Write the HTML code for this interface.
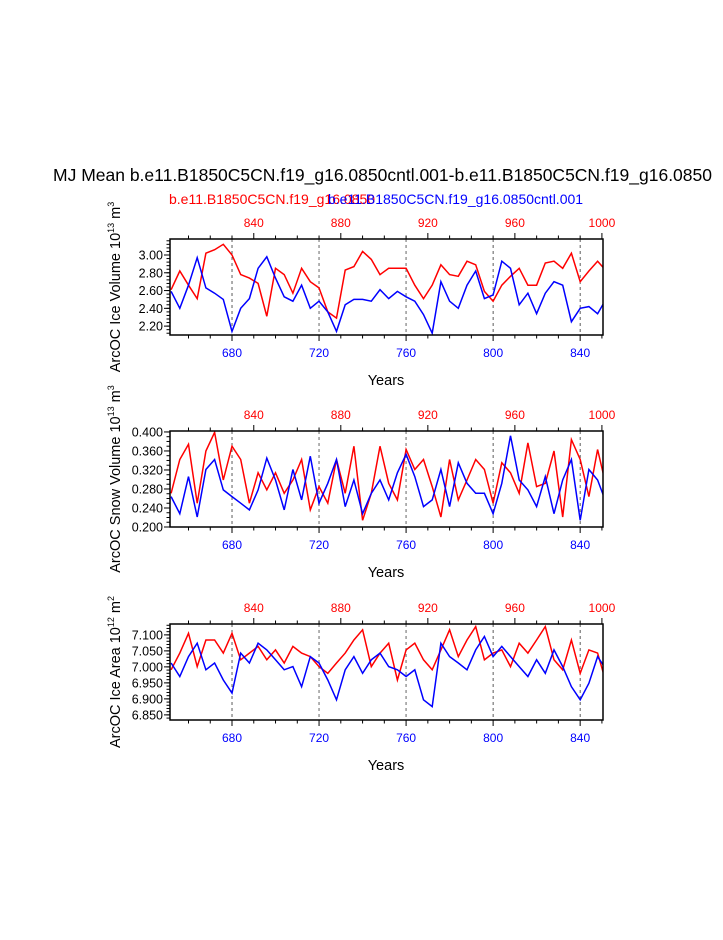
<!DOCTYPE html>
<html><head><meta charset="utf-8"><style>
body{margin:0;background:#fff;width:723px;height:935px;overflow:hidden}
svg{font-family:"Liberation Sans",sans-serif}
</style></head><body>
<svg id="c" width="723" height="935">
<text x="53" y="181" font-size="17.5">MJ Mean b.e11.B1850C5CN.f19_g16.0850cntl.001-b.e11.B1850C5CN.f19_g16.0850</text>
<text x="169" y="204" font-size="14" fill="red">b.e11.B1850C5CN.f19_g16.0850</text>
<text x="328" y="204" font-size="14" fill="blue">b.e11.B1850C5CN.f19_g16.0850cntl.001</text>
</svg>
<script>
const blueYears=[],redYears=[];
for(let i=0;i<51;i++){blueYears.push(652+4*i);redYears.push(802+4*i);}
const iceVolRed=[2.61,2.82,2.66,2.51,3.02,3.06,3.12,3.00,2.78,2.74,2.68,2.31,2.85,2.78,2.57,2.85,2.70,2.63,2.36,2.29,2.83,2.87,3.04,2.95,2.78,2.85,2.85,2.85,2.66,2.51,2.66,2.89,2.78,2.76,2.93,2.89,2.59,2.48,2.66,2.76,2.85,2.66,2.66,2.91,2.93,2.85,3.02,2.70,2.82,2.93,2.82];
const iceVolBlue=[2.59,2.40,2.66,2.97,2.63,2.57,2.50,2.14,2.40,2.51,2.85,2.98,2.74,2.53,2.48,2.66,2.40,2.48,2.36,2.14,2.44,2.50,2.50,2.48,2.61,2.51,2.59,2.53,2.48,2.33,2.12,2.70,2.48,2.40,2.66,2.82,2.51,2.55,2.93,2.85,2.44,2.57,2.34,2.57,2.70,2.66,2.25,2.40,2.42,2.34,2.51];
const snowRed=[0.271,0.342,0.374,0.250,0.360,0.399,0.299,0.370,0.342,0.250,0.314,0.278,0.314,0.271,0.299,0.342,0.236,0.285,0.250,0.342,0.271,0.370,0.214,0.271,0.370,0.292,0.257,0.363,0.321,0.342,0.285,0.221,0.342,0.257,0.299,0.342,0.321,0.250,0.335,0.314,0.271,0.377,0.285,0.292,0.360,0.221,0.384,0.342,0.264,0.363,0.285];
const snowBlue=[0.264,0.228,0.306,0.221,0.321,0.342,0.278,0.264,0.250,0.236,0.278,0.345,0.299,0.236,0.321,0.257,0.349,0.250,0.292,0.342,0.243,0.299,0.228,0.271,0.299,0.257,0.314,0.353,0.306,0.243,0.257,0.321,0.243,0.335,0.292,0.271,0.271,0.228,0.292,0.392,0.299,0.278,0.243,0.306,0.228,0.299,0.342,0.214,0.321,0.299,0.250];
const areaRed=[6.991,7.043,7.105,7.001,7.084,7.084,7.043,7.105,7.022,7.043,7.064,7.022,7.053,7.012,7.064,7.043,7.032,7.001,6.980,7.012,7.043,7.084,7.116,7.001,7.043,7.074,6.959,7.053,7.074,7.022,6.991,7.053,7.116,7.032,7.084,7.126,7.022,7.043,7.053,7.001,7.074,7.043,7.084,7.126,7.022,6.991,7.084,6.980,7.053,7.043,6.949];
const areaBlue=[7.012,6.970,7.032,7.074,6.991,7.012,6.959,6.918,7.043,7.012,7.074,7.053,7.022,6.991,7.001,6.938,7.032,7.012,6.959,6.897,6.991,7.032,6.980,7.022,7.043,7.001,6.991,6.970,6.991,6.897,6.876,7.074,7.032,7.012,6.991,7.053,7.095,7.032,7.064,7.032,7.001,6.970,7.022,6.980,7.053,7.001,6.938,6.897,6.949,7.032,6.991];
const bottomTicks=[680,720,760,800,840];
const topTicks=[840,880,920,960,1000];
const NS="http://www.w3.org/2000/svg";
const svg=document.getElementById('c');
const L=170,R=603,B0=651.5,B1=850.5,R0=801.5,R1=1000.5;
function xb(y){return L+(y-B0)/(B1-B0)*(R-L);}
function xr(y){return L+(y-R0)/(R1-R0)*(R-L);}
function mk(tag,at,parent){const e=document.createElementNS(NS,tag);for(const k in at)e.setAttribute(k,at[k]);(parent||svg).appendChild(e);return e;}
const panels=[
 {top:239,bot:335,lo:2.10,hi:3.18,labels:[2.2,2.4,2.6,2.8,3.0],fmt:2,minor:0.04,red:iceVolRed,blue:iceVolBlue,title:"ArcOC Ice Volume 10",sup:"13",unit:"m",usup:"3",name:"ice-volume"},
 {top:431,bot:527,lo:0.2,hi:0.402,labels:[0.2,0.24,0.28,0.32,0.36,0.4],fmt:3,minor:0.01,red:snowRed,blue:snowBlue,title:"ArcOC Snow Volume 10",sup:"13",unit:"m",usup:"3",name:"snow-volume"},
 {top:624,bot:720,lo:6.834,hi:7.134,labels:[6.85,6.9,6.95,7.0,7.05,7.1],fmt:3,minor:0.01,red:areaRed,blue:areaBlue,title:"ArcOC Ice Area 10",sup:"12",unit:"m",usup:"2",name:"ice-area"}
];
panels.forEach((p,pi)=>{
 const g=mk('g',{});
 
 
 const yv=v=>p.bot-(v-p.lo)/(p.hi-p.lo)*(p.bot-p.top);
 const cid='clip'+pi;
 const cp=mk('clipPath',{id:cid},g);mk('rect',{x:L,y:p.top,width:R-L,height:p.bot-p.top},cp);
 bottomTicks.forEach((t,i)=>{const l=mk('line',{x1:xb(t),x2:xb(t),y1:p.top,y2:p.bot,stroke:(i==1||i==2)?'#999':'#333','stroke-width':(i==1||i==2)?1.5:0.8,'stroke-dasharray':'3,3'},g);
  
  });
 [[p.red,redYears,xr,'red'],[p.blue,blueYears,xb,'blue']].forEach(([vals,yrs,xf,col])=>{
  const d=vals.map((v,i)=>(i?'L':'M')+xf(yrs[i]).toFixed(1)+','+yv(v).toFixed(1)).join('');
  const pa=mk('path',{d:d,fill:'none',stroke:col,'stroke-width':1.5,'clip-path':'url(#'+cid+')'},g);
  
  
 });
 const fr=mk('rect',{x:L,y:p.top,width:R-L,height:p.bot-p.top,fill:'none',stroke:'#000','stroke-width':1.5},g);
 
 
 for(let y=660;y<=850;y+=10){const mj=y%40==0;mk('line',{x1:xb(y),x2:xb(y),y1:p.bot,y2:p.bot+(mj?6:3.5),stroke:'#000'},g);}
 for(let y=810;y<=1000;y+=10){const mj=y%40==0;mk('line',{x1:xr(y),x2:xr(y),y1:p.top,y2:p.top-(mj?6:3.5),stroke:'#000'},g);}
 bottomTicks.forEach(t=>{const e=mk('text',{x:xb(t),y:p.bot+22,'font-size':12,fill:'blue','text-anchor':'middle'},g);e.textContent=t;
  
  });
 topTicks.forEach(t=>{const e=mk('text',{x:xr(t),y:p.top-12,'font-size':12,fill:'red','text-anchor':'middle'},g);e.textContent=t;
  
  });
 for(let k=Math.ceil(p.lo/p.minor);k*p.minor<=p.hi+1e-9;k++){const v=k*p.minor;mk('line',{x1:L,x2:L-3.5,y1:yv(v),y2:yv(v),stroke:'#000'},g);}
 p.labels.forEach(v=>{mk('line',{x1:L,x2:L-6,y1:yv(v),y2:yv(v),stroke:'#000'},g);
  const e=mk('text',{x:L-7,y:yv(v)+4.5,'font-size':12.5,'text-anchor':'end'},g);e.textContent=v.toFixed(p.fmt);
  
  });
 const xt=mk('text',{x:386,y:p.bot+50,'font-size':14.5,'text-anchor':'middle'},g);xt.textContent='Years';
 
 
 const cy=(p.top+p.bot)/2;
 const yt=mk('text',{x:0,y:0,'font-size':14.5,'text-anchor':'middle',transform:'translate(120,'+cy+') rotate(-90)'},g);
 
 
 yt.appendChild(document.createTextNode(p.title));
 const s1=mk('tspan',{'font-size':9,dy:-6},yt);s1.textContent=p.sup;
 const s2=mk('tspan',{dy:6},yt);s2.textContent='\u00a0'+p.unit;
 const s3=mk('tspan',{'font-size':9,dy:-6},yt);s3.textContent=p.usup;
});
</script>
</body></html>
